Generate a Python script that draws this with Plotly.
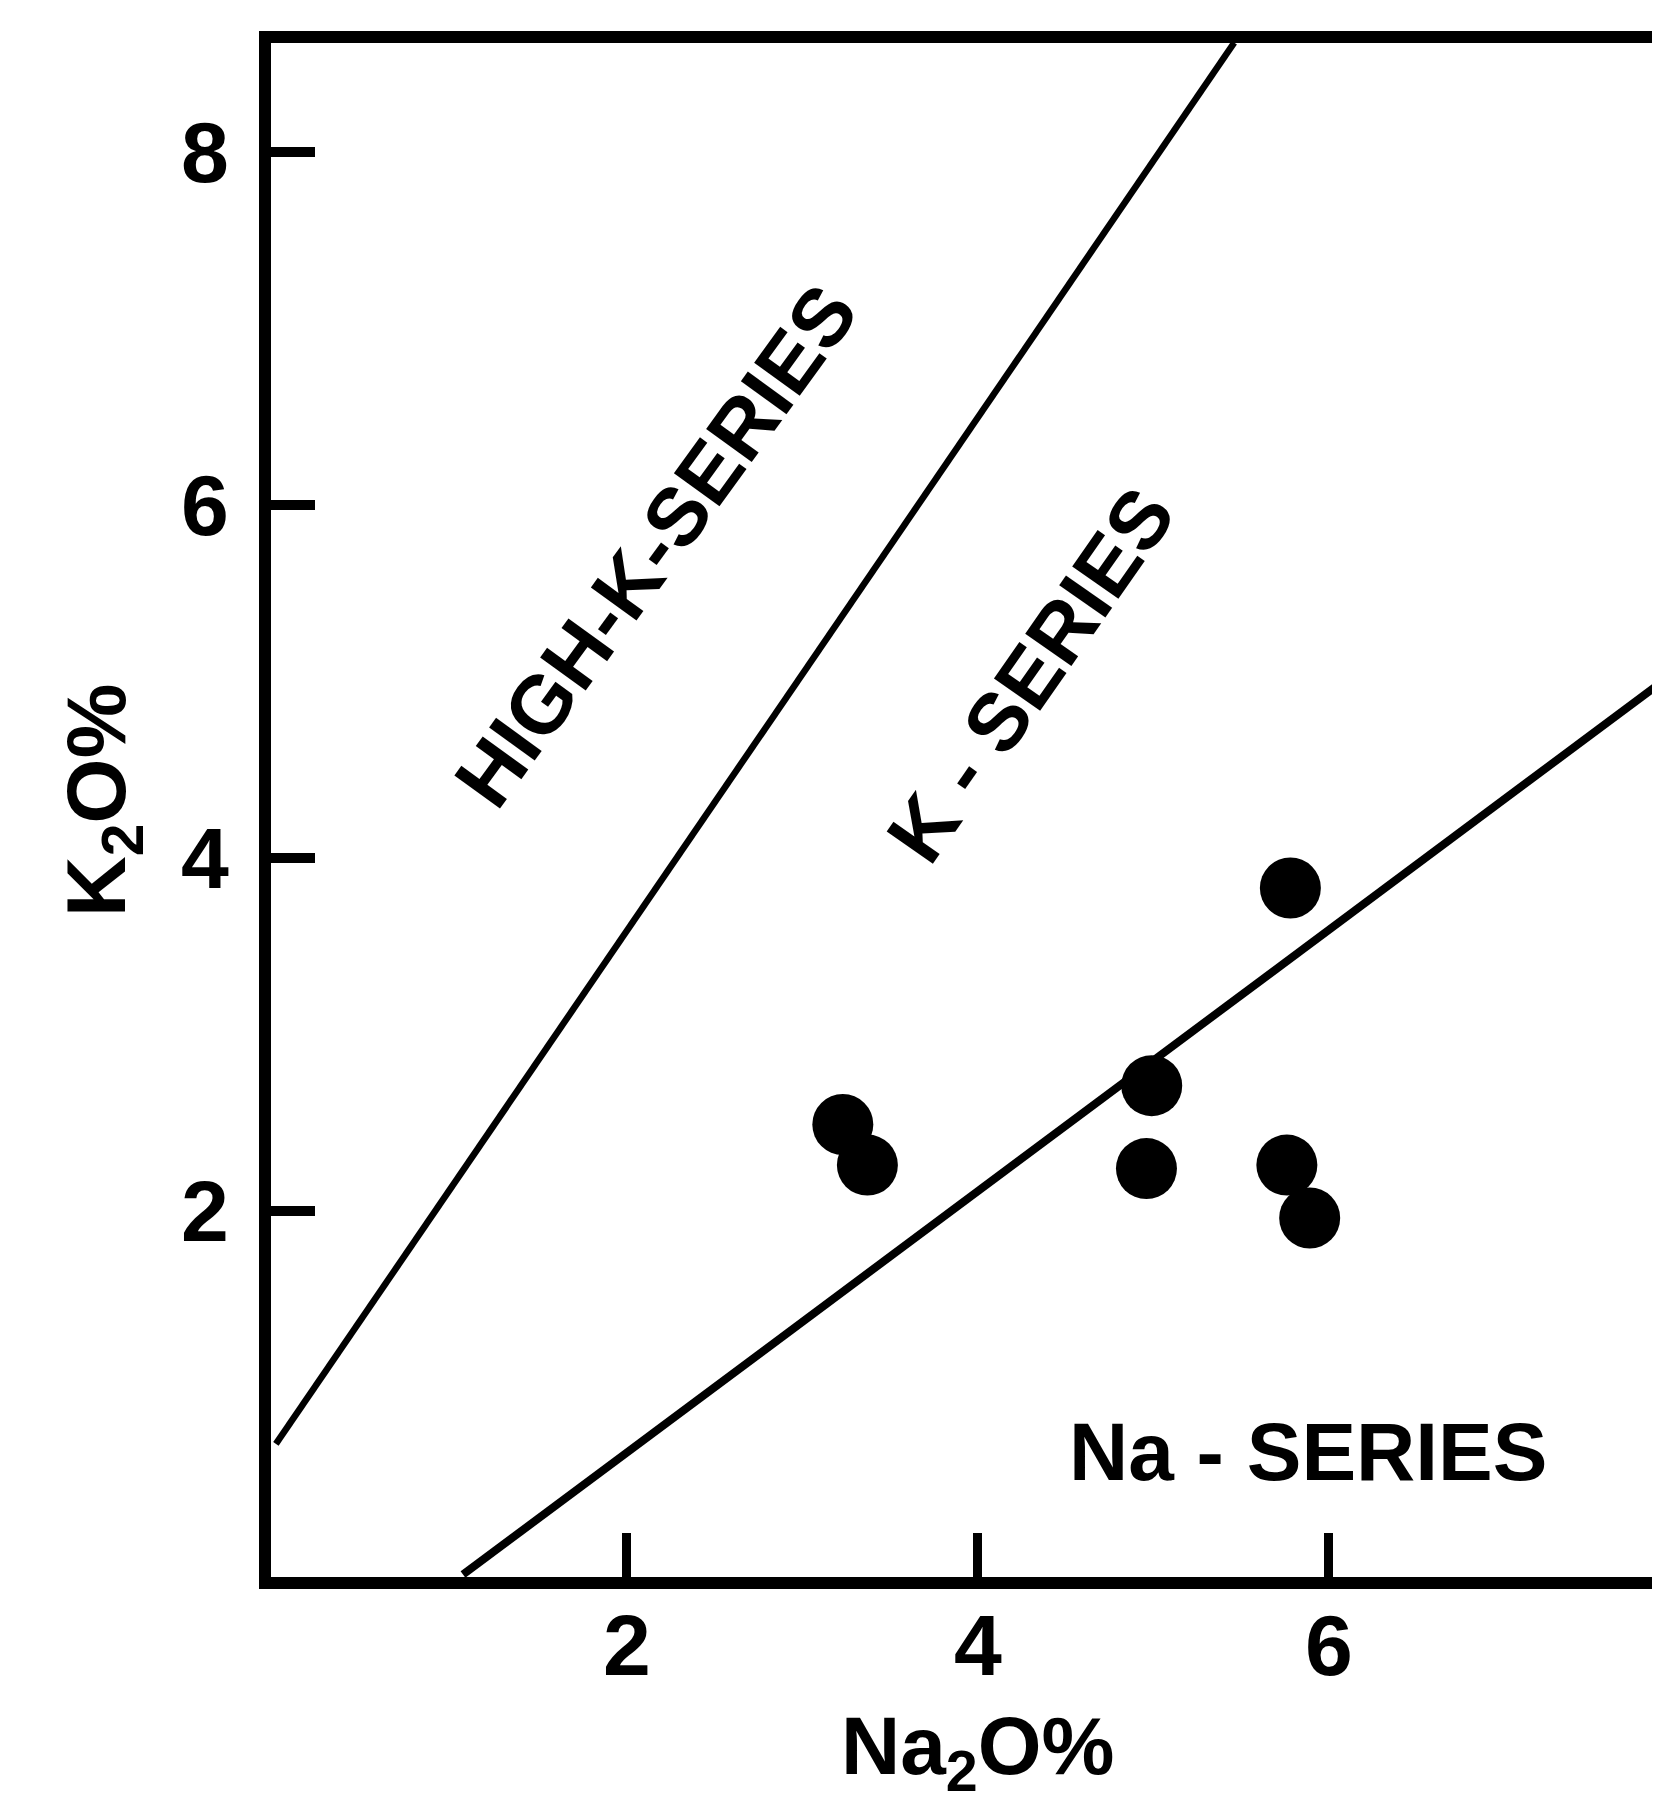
import plotly.graph_objects as go

# Sample data (Na2O %, K2O %)
na2o = [3.23, 3.37, 4.99, 4.96, 5.78, 5.76, 5.89]
k2o = [2.49, 2.26, 2.71, 2.24, 3.83, 2.26, 1.96]

# Series boundary lines
highk_boundary_x = [0.0, 5.46]
highk_boundary_y = [0.68, 8.62]
k_boundary_x = [1.066, 7.886]
k_boundary_y = [-0.06, 4.99]

x_ticks = [2, 4, 6]
y_ticks = [2, 4, 6, 8]

field_labels = ["HIGH-K-SERIES", "K - SERIES", "Na - SERIES"]
field_x = [2.165, 4.30, 5.88]
field_y = [5.77, 5.04, 0.635]
field_angle = [-54, -55, 0]

FONT = "Liberation Sans, Arial, Helvetica, sans-serif"
OFF = 8  # default page body margin
W, H = 1660 - OFF, 1795 - OFF
L, R, T = 271 - OFF, 0, 43 - OFF
BOTTOM = 1577 - OFF
B = H - BOTTOM
PW = W - L - R
PH = BOTTOM - T

fig = go.Figure()
fig.add_trace(go.Scatter(x=highk_boundary_x, y=highk_boundary_y, mode="lines",
                         line=dict(color="black", width=6.5), hoverinfo="skip"))
fig.add_trace(go.Scatter(x=k_boundary_x, y=k_boundary_y, mode="lines",
                         line=dict(color="black", width=8), hoverinfo="skip"))
fig.add_trace(go.Scatter(x=na2o, y=k2o, mode="markers",
                         marker=dict(size=61, color="black", line=dict(width=0))))

for txt, xx, yy, ang in zip(field_labels, field_x, field_y, field_angle):
    fig.add_annotation(x=xx, y=yy, xref="x", yref="y", text=txt, showarrow=False,
                       textangle=ang, xanchor="center", yanchor="middle",
                       font=dict(family=FONT, size=82, color="black", weight="bold"))

# axis titles
fig.add_annotation(x=4, xref="x", y=(BOTTOM - (1751 - OFF)) / PH, yref="paper",
                   text="Na<sub>2</sub>O%", showarrow=False,
                   xanchor="center", yanchor="middle",
                   font=dict(family=FONT, size=82, color="black", weight="bold"))
fig.add_annotation(x=((102 - OFF) - L) / PW, xref="paper", y=(BOTTOM - (801 - OFF)) / PH, yref="paper",
                   text="K<sub>2</sub>O%", showarrow=False, textangle=-90,
                   xanchor="center", yanchor="middle",
                   font=dict(family=FONT, size=84, color="black", weight="bold"))

fig.update_layout(
    width=W, height=H,
    margin=dict(l=L, r=R, t=T, b=B, pad=0),
    paper_bgcolor="white", plot_bgcolor="white",
    showlegend=False,
    font=dict(family=FONT, color="black"),
)
fig.update_xaxes(range=[-0.028, 7.886], tickvals=x_ticks, ticktext=[str(v) for v in x_ticks],
                 showline=True, linecolor="black", linewidth=12, mirror=True,
                 ticks="inside", ticklen=44, tickwidth=9, tickcolor="black",
                 showgrid=False, zeroline=False,
                 tickfont=dict(family=FONT, size=86, color="black", weight="bold"),
                 ticklabelstandoff=-17)
fig.update_yaxes(range=[-0.074, 8.618], tickvals=y_ticks, ticktext=[str(v) for v in y_ticks],
                 showline=True, linecolor="black", linewidth=12, mirror=False,
                 ticks="inside", ticklen=44, tickwidth=10, tickcolor="black",
                 showgrid=False, zeroline=False,
                 tickfont=dict(family=FONT, size=86, color="black", weight="bold"),
                 ticklabelstandoff=13)

fig.write_html("out.html")
